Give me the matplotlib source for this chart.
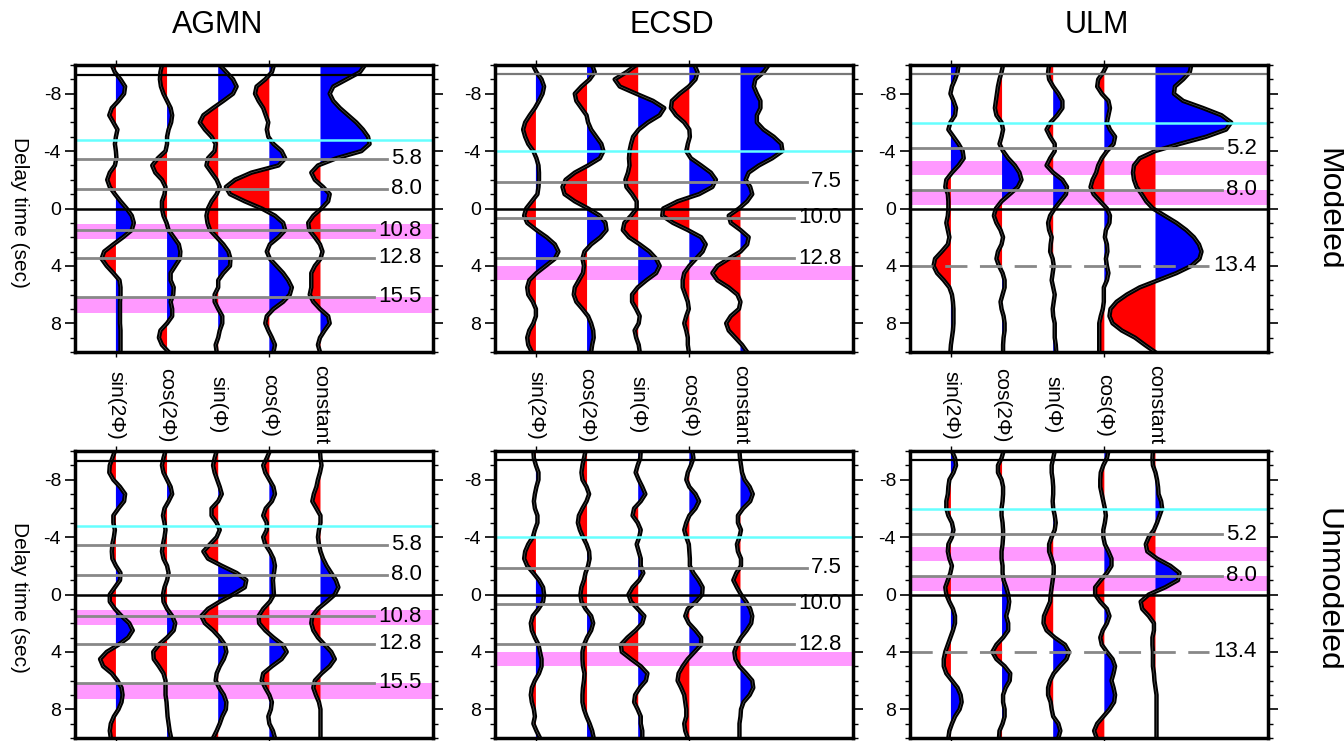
import numpy as np
import matplotlib
matplotlib.use('Agg')
import matplotlib.pyplot as plt
from matplotlib.ticker import MultipleLocator

plt.rcParams['font.family'] = ['Liberation Sans', 'DejaVu Sans']
plt.rcParams['axes.unicode_minus'] = False

# delay time samples (sec), every 0.5 s from -10 to 10
delay = np.arange(-10, 10.01, 0.5)
components = ['sin(2Φ)', 'cos(2Φ)', 'sin(Φ)', 'cos(Φ)', 'constant']
stations = ['AGMN', 'ECSD', 'ULM']
rows = ['Modeled', 'Unmodeled']

# ---- AGMN modeled (amplitude in trace-spacing units, + = right)
agmn_mod_s2 = [-0.08, -0.02, 0.09, 0.18, 0.16, 0.05, -0.08, -0.13, -0.05, 0.03, 0, -0.02, 0, 0.01, -0.02, -0.12, -0.17, -0.12, -0.02, 0.09, 0.21,
               0.31, 0.35, 0.31, 0.14, -0.05, -0.23, -0.28, -0.18, -0.05, 0.07, 0.09, 0.09, 0.08, 0.08, 0.08, 0.08, 0.09, 0.09, 0.09, 0.09]
agmn_mod_c2 = [-0.1, -0.13, -0.14, -0.12, -0.07, 0, 0.07, 0.1, 0.08, 0.03, 0, 0, -0.03, -0.18, -0.29, -0.23, -0.1, -0.03, -0.05, -0.1, -0.1,
               -0.07, -0.01, 0.03, 0.13, 0.23, 0.26, 0.25, 0.16, 0.07, 0.07, 0.13, 0.12, 0.07, 0.1, 0.1, 0, -0.13, -0.16, -0.1, 0.03]
agmn_mod_s1 = [0.03, 0.16, 0.29, 0.36, 0.29, 0.1, -0.1, -0.29, -0.36, -0.26, -0.13, -0.05, -0.07, -0.2, -0.23, -0.13, -0.03, 0.03, -0.03, -0.13, -0.2,
               -0.23, -0.21, -0.16, -0.03, 0.1, 0.2, 0.24, 0.23, 0.1, 0, 0, -0.07, -0.07, 0, 0.08, 0.08, 0.03, 0, -0.05, -0.03]
agmn_mod_c1 = [0.09, 0.05, -0.08, -0.25, -0.28, -0.21, -0.12, -0.07, -0.02, -0.05, -0.02, 0.08, 0.24, 0.31, 0.18, -0.35, -0.67, -0.85, -0.77, -0.48, -0.15,
               0.11, 0.27, 0.31, 0.18, 0.01, -0.05, 0.01, 0.14, 0.27, 0.37, 0.44, 0.4, 0.27, 0.08, -0.05, -0.08, -0.02, 0.05, 0.11, 0.08]
agmn_mod_k = [0.87, 0.77, 0.51, 0.25, 0.18, 0.25, 0.38, 0.54, 0.7, 0.83, 0.93, 0.96, 0.8, 0.31, -0.05, -0.18, -0.11, 0.05, 0.18, 0.15, 0.02,
              -0.14, -0.24, -0.22, -0.11, -0.01, 0.04, 0, -0.11, -0.18, -0.18, -0.18, -0.21, -0.14, -0.01, 0.15, 0.18, 0.08, -0.01, -0.05, -0.01]

# ---- ECSD modeled
ecsd_mod_s2 = [-0.06, 0.01, 0.11, 0.16, 0.13, 0.06, -0.02, -0.12, -0.21, -0.25, -0.21, -0.15, -0.05, 0.01, 0.05, 0.06, 0.06, 0.05, 0.03, -0.08, -0.19,
               -0.23, -0.17, 0.01, 0.21, 0.37, 0.44, 0.37, 0.19, 0.01, -0.13, -0.17, -0.15, -0.06, 0, 0, -0.05, -0.13, -0.17, -0.15, -0.08]
ecsd_mod_c2 = [0.1, 0.15, 0.05, -0.11, -0.24, -0.21, -0.11, -0.01, 0.02, 0.08, 0.18, 0.28, 0.32, 0.25, 0.02, -0.24, -0.42, -0.48, -0.44, -0.24, 0.02,
               0.25, 0.36, 0.38, 0.26, 0.08, -0.05, -0.09, -0.06, -0.08, -0.16, -0.24, -0.26, -0.21, -0.09, 0.02, 0.08, 0.12, 0.13, 0.1, 0.08]
ecsd_mod_s1 = [-0.04, -0.23, -0.46, -0.36, -0.04, 0.29, 0.51, 0.42, 0.19, 0.01, -0.1, -0.14, -0.17, -0.18, -0.17, -0.2, -0.25, -0.23, -0.12, -0.03, -0.03,
               -0.14, -0.27, -0.3, -0.18, 0.03, 0.22, 0.35, 0.42, 0.35, 0.16, -0.01, -0.12, -0.12, -0.04, 0.03, 0.01, -0.07, -0.04, 0.01, 0.03]
ecsd_mod_c1 = [0.1, 0.16, 0.12, -0.01, -0.19, -0.34, -0.36, -0.26, -0.1, 0, 0.01, -0.03, -0.06, 0.03, 0.23, 0.42, 0.52, 0.45, 0.19, -0.23, -0.51,
               -0.53, -0.32, -0.03, 0.23, 0.32, 0.26, 0.13, 0, -0.1, -0.13, -0.13, -0.08, -0.03, -0.01, -0.06, -0.1, -0.06, -0.03, -0.03, -0.01]
ecsd_mod_k = [0.55, 0.45, 0.29, 0.26, 0.32, 0.39, 0.39, 0.32, 0.32, 0.45, 0.65, 0.8, 0.82, 0.62, 0.36, 0.16, 0.1, 0.19, 0.23, 0.13, -0.03,
              -0.23, -0.19, 0, 0.16, 0.13, 0, -0.23, -0.45, -0.55, -0.45, -0.23, -0.06, 0, -0.03, -0.19, -0.28, -0.23, -0.1, 0.03, 0.13]

# ---- ULM modeled
ulm_mod_s2 = [0.15, 0.13, 0.08, 0.02, -0.01, 0.05, 0.1, 0.08, -0.01, -0.05, 0.05, 0.15, 0.23, 0.25, 0.15, 0.02, -0.09, -0.11, -0.06, -0.05, -0.05,
              -0.06, -0.09, -0.06, -0.03, -0.06, -0.18, -0.31, -0.34, -0.27, -0.14, -0.03, 0.02, 0.04, 0.05, 0.05, 0.05, 0.04, 0.02, 0, -0.01]
ulm_mod_c2 = [0.02, -0.01, -0.05, -0.08, -0.1, -0.12, -0.14, -0.11, -0.01, 0.02, -0.01, -0.05, 0.02, 0.12, 0.25, 0.34, 0.38, 0.31, 0.15, -0.01, -0.12,
              -0.16, -0.11, -0.03, 0.02, -0.01, -0.08, -0.11, -0.06, 0.01, 0.05, 0.05, 0.01, -0.03, -0.01, 0.03, 0.05, 0.05, 0.03, 0.02, 0.02]
ulm_mod_s1 = [-0.08, -0.1, -0.08, 0, 0.1, 0.18, 0.18, 0.08, -0.05, -0.13, -0.06, 0.03, 0.03, -0.06, -0.13, 0, 0.18, 0.27, 0.25, 0.14, 0.03,
              -0.06, -0.1, -0.08, -0.03, -0.05, -0.06, -0.01, 0.01, -0.01, -0.03, 0, 0.03, 0.01, -0.01, 0, 0.03, 0.03, 0.03, 0.05, 0.06]
ulm_mod_c1 = [0.05, -0.02, -0.12, -0.14, -0.05, 0.08, 0.11, 0.08, 0.05, 0.11, 0.21, 0.18, 0.05, -0.05, -0.12, -0.16, -0.23, -0.27, -0.21, -0.08, 0.05,
              0.11, 0.1, 0.03, 0.01, 0.05, 0.06, 0.03, 0.05, 0.08, 0.05, -0.01, -0.01, -0.01, -0.03, -0.07, -0.1, -0.1, -0.1, -0.1, -0.1]
ulm_mod_k = [0.7, 0.67, 0.54, 0.38, 0.36, 0.54, 0.93, 1.29, 1.48, 1.38, 0.99, 0.47, -0.01, -0.31, -0.42, -0.44, -0.42, -0.37, -0.27, -0.18, -0.05,
             0.18, 0.41, 0.6, 0.75, 0.85, 0.9, 0.86, 0.7, 0.41, 0.05, -0.31, -0.56, -0.76, -0.88, -0.9, -0.84, -0.66, -0.4, -0.21, -0.01]

# ---- AGMN unmodeled
agmn_unm_s2 = [-0.02, -0.07, -0.12, -0.13, -0.05, 0.08, 0.18, 0.16, 0.05, -0.05, -0.05, -0.02, -0.04, -0.07, -0.08, -0.07, 0, 0.09, 0.08, -0.02, -0.12,
               -0.12, -0.02, 0.11, 0.26, 0.33, 0.24, 0.05, -0.18, -0.31, -0.25, -0.08, 0.03, 0.11, 0.13, 0.11, 0.05, -0.04, -0.1, -0.12, -0.1]
agmn_unm_c2 = [-0.03, -0.07, -0.1, -0.07, 0, 0.07, 0.1, 0.03, -0.05, -0.08, -0.05, -0.03, -0.05, -0.08, -0.1, -0.07, 0, 0.03, 0, -0.05, -0.08,
               -0.07, 0, 0.1, 0.16, 0.13, 0, -0.16, -0.27, -0.26, -0.16, -0.07, -0.03, -0.03, -0.03, -0.01, 0, 0.01, 0.03, 0.05, 0.08]
agmn_unm_s1 = [-0.03, -0.07, -0.1, -0.07, -0.02, 0.03, 0.07, 0, -0.13, -0.13, -0.03, 0.03, -0.03, -0.16, -0.29, -0.2, 0.07, 0.36, 0.55, 0.52, 0.29,
               0.03, -0.2, -0.33, -0.26, -0.1, 0.03, 0.13, 0.16, 0.11, 0.03, -0.03, -0.05, 0.02, 0.11, 0.16, 0.15, 0.08, 0.03, -0.03, -0.1]
agmn_unm_c1 = [0.01, -0.05, -0.12, -0.08, 0, 0.08, 0.11, 0.05, -0.07, -0.12, -0.05, -0.05, -0.12, -0.08, 0.01, 0.08, 0.11, 0.09, 0.07, 0.08, 0.09,
               0.01, -0.12, -0.21, -0.2, -0.08, 0.08, 0.26, 0.34, 0.24, 0.05, -0.12, -0.15, -0.08, 0, 0.05, 0.03, -0.02, 0, 0.07, 0.11]
agmn_unm_k = [-0.01, 0, 0.02, -0.01, -0.05, -0.08, -0.13, -0.16, -0.08, 0, 0, -0.03, -0.05, -0.03, 0, 0.05, 0.12, 0.21, 0.3, 0.35, 0.28,
              0.12, -0.05, -0.16, -0.18, -0.14, -0.05, 0.08, 0.21, 0.28, 0.18, 0.02, -0.11, -0.14, -0.09, -0.03, 0, 0, 0, 0, 0]

# ---- ECSD unmodeled
ecsd_unm_s2 = [-0.05, -0.04, 0, 0.05, 0.05, 0.01, -0.02, -0.04, -0.02, 0.03, 0.03, -0.02, -0.06, -0.15, -0.21, -0.23, -0.17, -0.05, 0.06, 0.14, 0.16,
               0.14, 0.05, -0.06, -0.1, -0.08, -0.02, 0.05, 0.08, 0.11, 0.11, 0.06, -0.02, -0.08, -0.1, -0.08, -0.04, -0.02, -0.05, 0.01, 0.08]
ecsd_unm_c2 = [-0.03, -0.06, -0.09, -0.11, -0.09, -0.01, 0.04, -0.01, -0.09, -0.16, -0.18, -0.14, -0.08, -0.01, 0.04, 0.05, 0.02, -0.03, -0.06, -0.11, -0.13,
               -0.11, -0.03, 0.08, 0.12, 0.08, 0, -0.06, -0.09, -0.09, -0.08, -0.05, -0.06, -0.08, -0.09, -0.09, -0.06, -0.01, 0.05, 0.1, 0.13]
ecsd_unm_s1 = [0.05, 0.04, -0.01, -0.05, 0.01, 0.08, 0.14, 0.05, -0.08, -0.11, -0.01, 0.05, 0.02, -0.03, 0.01, 0.05, 0.05, 0.1, 0.02, -0.11, -0.19,
               -0.14, -0.01, 0.12, 0.08, -0.05, -0.21, -0.34, -0.32, -0.14, 0.05, 0.18, 0.15, 0.03, -0.06, -0.08, -0.01, 0.05, 0.05, 0.08, 0.08]
ecsd_unm_c1 = [0.06, 0.08, 0.03, -0.03, -0.06, 0, 0.12, 0.19, 0.12, 0, -0.06, -0.1, -0.06, -0.01, 0, 0.01, 0.01, 0.08, 0.18, 0.26, 0.25,
               0.13, -0.03, -0.08, -0.01, 0.12, 0.23, 0.23, 0.1, -0.03, -0.13, -0.21, -0.23, -0.16, -0.1, -0.08, -0.06, -0.06, -0.1, -0.08, -0.03]
ecsd_unm_k = [-0.02, -0.01, 0.01, 0.03, 0.08, 0.18, 0.24, 0.19, 0.05, -0.05, -0.05, 0.01, -0.02, -0.07, -0.05, 0.01, 0.01, -0.08, -0.14, -0.07, 0.01,
              0.11, 0.19, 0.23, 0.21, 0.12, 0.01, -0.07, -0.12, -0.1, -0.02, 0.11, 0.23, 0.25, 0.18, 0.06, 0.01, 0, -0.02, -0.02, -0.02]

# ---- ULM unmodeled
ulm_unm_s2 = [0.02, 0.08, 0.1, 0.05, -0.03, -0.05, -0.06, -0.09, -0.09, -0.05, 0.02, 0.05, 0.02, -0.05, -0.06, -0.03, 0.02, -0.01, -0.06, -0.11, -0.09,
              -0.03, 0.04, 0.08, 0.08, 0.04, -0.01, -0.06, -0.11, -0.14, -0.14, -0.09, 0.02, 0.13, 0.19, 0.21, 0.17, 0.08, 0.02, -0.03, -0.05]
ulm_unm_c2 = [0.03, -0.01, -0.08, -0.08, -0.01, 0.02, 0.02, 0.01, -0.01, -0.01, 0.01, 0.02, 0.02, 0.01, -0.01, -0.01, 0.01, 0.01, 0.03, 0.08, 0.12,
              0.14, 0.12, 0.08, 0.12, 0.12, 0.02, -0.11, -0.19, -0.11, 0.05, 0.16, 0.15, 0.07, 0.02, 0.02, 0.05, 0.05, 0.01, -0.05, -0.06]
ulm_unm_s1 = [0.03, 0, -0.03, -0.03, -0.01, 0, 0, -0.01, 0, 0.03, 0.05, 0.03, -0.03, -0.08, -0.08, -0.03, 0.01, 0.01, -0.01, -0.03, -0.05,
              -0.06, -0.12, -0.18, -0.19, -0.13, 0.03, 0.23, 0.31, 0.26, 0.13, 0.01, -0.06, -0.1, -0.1, -0.05, -0.03, 0, 0.1, 0.14, 0.1]
ulm_unm_c1 = [0.08, 0.05, -0.02, -0.07, -0.08, -0.08, -0.05, -0.02, 0.01, 0.03, 0.01, -0.02, -0.02, 0.01, 0.08, 0.14, 0.14, 0.05, -0.07, -0.18, -0.18,
              -0.08, 0.05, 0.1, 0.05, -0.03, -0.08, -0.05, 0.05, 0.16, 0.21, 0.18, 0.14, 0.18, 0.21, 0.19, 0.1, -0.02, -0.14, -0.2, -0.15]
ulm_unm_k = [-0.05, -0.06, -0.05, 0, 0.03, 0.05, 0.06, 0.11, 0.13, 0.08, 0.03, -0.03, -0.13, -0.19, -0.16, 0.03, 0.29, 0.47, 0.44, 0.19, -0.13,
             -0.29, -0.26, -0.13, -0.03, -0.03, -0.06, -0.06, -0.05, -0.05, -0.05, -0.03, -0.02, 0, 0.02, 0.02, 0.02, 0.02, 0.02, 0.02, 0.02]

# ---- reference lines per station (delay in sec)
ref_delay = {'AGMN': -9.3, 'ECSD': -9.4, 'ULM': -9.4}
cyan_delay = {'AGMN': -4.75, 'ECSD': -4.0, 'ULM': -5.95}
mark_labels = {'AGMN': ['5.8', '8.0', '10.8', '12.8', '15.5'],
               'ECSD': ['7.5', '10.0', '12.8'],
               'ULM': ['5.2', '8.0', '13.4']}
mark_delay = {'AGMN': [-3.45, -1.38, 1.52, 3.42, 6.15],
              'ECSD': [-1.85, 0.65, 3.45],
              'ULM': [-4.2, -1.3, 4.0]}
mark_dashed = {'AGMN': [], 'ECSD': [], 'ULM': ['13.4']}
bands = {'AGMN': [(1.05, 2.1), (6.2, 7.25)],
         'ECSD': [(4.0, 5.0)],
         'ULM': [(-3.3, -2.3), (-1.3, -0.25)]}

traces = {
    ('Modeled', 'AGMN'): [agmn_mod_s2, agmn_mod_c2, agmn_mod_s1, agmn_mod_c1, agmn_mod_k],
    ('Modeled', 'ECSD'): [ecsd_mod_s2, ecsd_mod_c2, ecsd_mod_s1, ecsd_mod_c1, ecsd_mod_k],
    ('Modeled', 'ULM'): [ulm_mod_s2, ulm_mod_c2, ulm_mod_s1, ulm_mod_c1, ulm_mod_k],
    ('Unmodeled', 'AGMN'): [agmn_unm_s2, agmn_unm_c2, agmn_unm_s1, agmn_unm_c1, agmn_unm_k],
    ('Unmodeled', 'ECSD'): [ecsd_unm_s2, ecsd_unm_c2, ecsd_unm_s1, ecsd_unm_c1, ecsd_unm_k],
    ('Unmodeled', 'ULM'): [ulm_unm_s2, ulm_unm_c2, ulm_unm_s1, ulm_unm_c1, ulm_unm_k],
}

fig = plt.figure(figsize=(13.44, 7.41), dpi=100)
lefts = [75, 495, 910]
tops = [65, 451]
W, H = 1344, 741
axes = {}
for r, row in enumerate(rows):
    for c, st in enumerate(stations):
        ax = fig.add_axes([lefts[c] / W, 1 - (tops[r] + 287) / H, 358 / W, 287 / H])
        axes[(row, st)] = ax

label_items = []
for (row, st), ax in axes.items():
    ax.set_xlim(-0.8, 6.2)
    ax.set_ylim(10, -10)
    for lo, hi in bands[st]:
        ax.axhspan(lo, hi, color='#ff99ff', lw=0, zorder=1)
    for i, amp in enumerate(traces[(row, st)]):
        amp = np.array(amp)
        ax.fill_betweenx(delay, i, i + amp, where=amp >= 0, interpolate=True,
                         color='#0000ff', lw=0, zorder=2)
        ax.fill_betweenx(delay, i, i + amp, where=amp <= 0, interpolate=True,
                         color='#ff0000', lw=0, zorder=2)
        ax.plot(i + amp, delay, color='black', lw=3.2, solid_joinstyle='round', zorder=3)
        ax.plot(i + amp, delay, color='white', lw=0.3, alpha=0.5, zorder=3.1)
    ax.axhline(0, color='black', lw=1.8, zorder=4)
    ref_col = 'black' if (st == 'AGMN' or row == 'Unmodeled') else '#777777'
    ax.axhline(ref_delay[st], color=ref_col, lw=1.6, zorder=4)
    ax.axhline(cyan_delay[st], color='#66ffff', lw=1.8, zorder=4)
    for lab, d in zip(mark_labels[st], mark_delay[st]):
        t = ax.text(5.98, d, lab, ha='right', va='center', fontsize=16, zorder=6)
        label_items.append((ax, t, d, lab in mark_dashed[st]))

    ax.yaxis.set_major_locator(MultipleLocator(4))
    ax.yaxis.set_minor_locator(MultipleLocator(1))
    ax.set_xticks([0, 3])
    ax.tick_params(axis='y', which='major', direction='out', left=True, right=True,
                   length=7, width=1.2, labelsize=14, pad=3)
    ax.tick_params(axis='y', which='minor', direction='out', left=True, right=True,
                   length=3.5, width=1.0)
    ax.tick_params(axis='x', direction='out', top=True, bottom=True, length=3.5,
                   width=1.0, labelbottom=False)
    for sp in ax.spines.values():
        sp.set_linewidth(2.5)
        sp.set_zorder(7)

# gray marker lines stop just left of their labels
fig.canvas.draw()
for ax, t, d, dashed in label_items:
    bb = t.get_window_extent()
    x_end = ax.transData.inverted().transform((bb.x0 - 4, 0))[0]
    if dashed:
        ax.plot([-0.8, x_end], [d, d], color='#888888', lw=2.0, ls=(0, (8, 4.5)), zorder=5)
    else:
        ax.plot([-0.8, x_end], [d, d], color='#888888', lw=2.0, zorder=5)

# component names under the top row
for c, st in enumerate(stations):
    for i, name in enumerate(components):
        xf = (lefts[c] + (i + 0.8) * 358 / 7.0) / W
        fig.text(xf, 1 - 405 / H, name, rotation=270, ha='center', va='center', fontsize=15)

title_x = [218, 672, 1097]
for st, x in zip(stations, title_x):
    fig.text(x / W, 1 - 33 / H, st, ha='center', va='baseline', fontsize=22)

fig.text(1328 / W, 1 - 209 / H, 'Modeled', rotation=270, ha='center', va='center', fontsize=23)
fig.text(1328 / W, 1 - 590 / H, 'Unmodeled', rotation=270, ha='center', va='center', fontsize=23)
fig.text(19 / W, 1 - 212 / H, 'Delay time (sec)', rotation=270, ha='center', va='center', fontsize=15)
fig.text(19 / W, 1 - 597 / H, 'Delay time (sec)', rotation=270, ha='center', va='center', fontsize=15)

fig.savefig('out.png', dpi=100)
